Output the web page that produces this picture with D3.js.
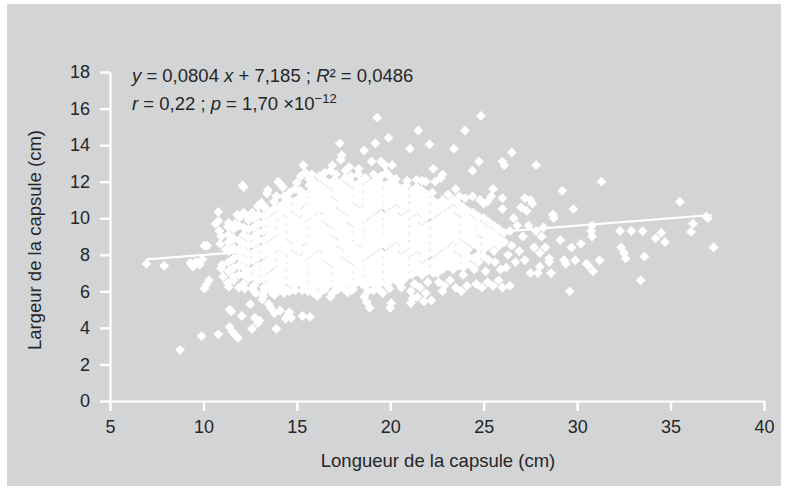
<!DOCTYPE html>
<html>
<head>
<meta charset="utf-8">
<script src="https://cdn.jsdelivr.net/npm/d3@7"></script>
<style>
  body { margin: 0; background: #fff; }
  svg { display: block; }
</style>
</head>
<body>
<svg id="chart" width="785" height="488"></svg>
<script>
// Longueur (x, cm) / largeur (y, cm) des capsules.
// Points isolés, rangés par tranche de longueur.
const bande07a12 = [
  [6.95,7.5],[7.9,7.4],[8.75,2.8],[9.3,7.55],[9.45,7.35],[9.6,7.6],[9.8,7.45],[9.9,3.55],
  [9.95,7.75],[10.05,8.5],[10.2,8.5],[10.05,6.15],[10.15,6.35],[10.3,6.6],[10.65,9.7],
  [10.8,9.85],[10.8,10.35],[10.8,3.65],[10.85,9.3],[10.95,9.0],[10.9,8.6],[11.0,7.45],
  [10.95,7.25],[11.05,6.8],[11.2,8.3],[11.3,9.55],[11.35,9.75],[11.3,6.45],[11.35,6.25],
  [11.4,5.0],[11.5,4.9],[11.4,4.05],[11.55,3.8],[11.7,3.6],[11.85,3.45],[11.6,6.8],
  [11.7,9.7],[11.8,10.2],[11.95,10.05],[12.1,11.8],[12.15,11.7],[12.05,4.65],[11.9,6.2],[12.2,6.15]
];
const bande12a14 = [
  [12.5,5.3],[12.6,3.95],[12.9,4.25],[13.0,4.4],[12.75,4.55],[12.35,10.1],[12.6,10.3],
  [12.9,10.65],[13.1,10.85],[13.3,10.6],[13.4,11.35],[13.45,11.55],[13.2,5.75],[13.25,6.0],
  [13.15,5.55],[13.5,5.3],[13.6,5.1],[12.8,5.9],[12.6,6.15],[13.8,4.8],[13.9,3.95],[13.6,6.0],
  [14.1,11.9],[14.0,12.0],[14.25,11.7],[13.9,11.2],[13.8,5.8],[14.0,6.0]
];
const bande14a16 = [
  [14.1,4.95],[14.4,4.5],[14.5,4.65],[14.6,4.85],[14.7,4.55],[14.3,5.9],[14.6,6.0],[14.9,6.05],
  [15.3,4.65],[15.7,4.6],[14.6,11.4],[14.9,11.6],[15.0,11.95],[15.2,11.5],[15.35,12.9],
  [15.45,12.5],[15.65,12.15],[15.8,12.4],[15.9,12.0],[15.3,6.05],[15.6,6.0],[15.9,5.9],[15.2,12.3]
];
const bande16a18 = [
  [16.1,5.75],[16.3,6.0],[16.5,6.1],[16.8,5.7],[16.9,5.9],[16.2,12.3],[16.5,12.5],[16.8,12.6],
  [16.9,12.9],[17.1,12.4],[17.3,14.1],[17.4,13.45],[17.35,13.2],[17.6,12.6],[17.8,12.8],
  [17.9,12.3],[17.2,6.1],[17.5,6.2],[17.9,6.05],[17.7,5.95]
];
const bande18a20 = [
  [18.1,6.5],[18.3,12.7],[18.6,13.7],[18.5,6.4],[18.6,5.7],[18.75,5.4],[18.9,5.1],[18.8,6.0],
  [19.0,13.1],[19.1,12.4],[19.2,14.1],[19.3,15.5],[19.5,13.1],[19.1,6.05],[19.4,6.1],[19.6,5.9],
  [19.8,12.5],[19.9,14.4],[20.0,5.1],[20.05,5.35],[19.95,6.15],[19.7,12.9],[20.1,12.9],
  [20.0,12.25],[18.3,12.4],[18.0,6.1]
];
const bande20a22 = [
  [20.3,12.15],[20.4,6.5],[20.5,7.0],[20.6,6.2],[20.9,12.05],[21.05,13.8],[21.1,6.0],[21.2,5.6],
  [21.1,5.35],[21.3,6.4],[21.45,5.7],[21.5,14.8],[21.6,6.2],[21.7,12.05],[21.8,5.45],[21.9,5.9],
  [22.0,6.5],[22.1,14.05],[22.2,5.5],[21.4,12.1],[20.7,6.6],[21.9,12.0]
];
const bande22a24 = [
  [22.3,12.7],[22.4,12.0],[22.7,12.2],[22.3,7.0],[22.5,7.3],[22.8,12.4],[22.8,6.0],[22.9,6.3],
  [23.2,6.6],[23.4,13.8],[23.5,6.2],[23.7,11.2],[23.8,6.0],[24.0,14.8],[24.1,6.3],[23.9,6.9],
  [23.1,11.3],[23.5,11.6],[22.6,6.5],[24.0,11.1]
];
const bande24a26 = [
  [24.4,12.6],[24.75,13.1],[24.85,15.6],[24.4,11.2],[24.8,11.0],[24.6,6.4],[24.9,6.2],[25.2,6.5],
  [25.5,6.3],[25.5,11.6],[25.2,10.9],[25.8,6.6],[26.0,11.1],[26.0,13.1],[26.1,12.9],[25.9,7.2],
  [25.6,7.6],[26.0,10.5],[26.2,7.3],[25.4,11.2],[25.0,10.8],[24.5,7.2],[25.1,7.1]
];
const bande26a29 = [
  [26.5,13.6],[26.4,6.3],[26.0,6.2],[26.3,8.0],[26.5,8.5],[26.4,9.3],[26.6,10.0],[26.7,7.6],
  [26.9,8.2],[27.0,10.6],[27.2,11.1],[27.3,10.4],[27.1,9.0],[27.4,9.6],[27.5,11.0],[27.6,10.8],
  [27.2,7.7],[27.5,7.0],[27.8,12.9],[27.9,7.0],[28.0,7.35],[27.7,8.4],[28.1,9.0],[28.2,9.5],
  [28.0,8.1],[28.3,8.4],[28.5,7.8],[28.6,7.0],[28.7,10.2],[28.75,10.0],[28.5,7.6],[26.8,9.6],[27.8,9.3]
];
const bande29a38 = [
  [29.1,8.8],[29.2,11.5],[29.3,7.7],[29.4,7.5],[29.6,6.0],[29.7,8.4],[29.8,10.5],[29.9,7.7],
  [30.2,8.6],[30.5,7.5],[30.6,7.4],[30.8,9.0],[30.8,9.6],[30.75,9.3],[30.85,7.1],[31.2,7.7],
  [31.3,12.0],[32.3,9.3],[32.35,8.4],[32.5,8.1],[32.6,7.8],[32.9,9.3],[33.4,6.6],[33.5,9.3],
  [33.6,7.9],[34.2,8.9],[34.5,9.2],[34.7,8.7],[35.5,10.9],[36.1,9.25],[36.2,9.7],[36.9,10.1],
  [37.0,10.0],[37.3,8.4]
];

// Nuage dense : [longueur, [largeurs…]] par colonne.
const coeurGauche = [
  [11.35,[7.1,7.6,8.2,8.7,9.1]],
  [11.62,[6.6,7.3,7.8,8.4,8.9,9.4]],
  [11.9,[6.9,7.4,7.9,8.3,8.8,9.6]],
  [12.15,[6.4,6.9,7.3,7.7,8.2,8.6,9.1,9.5,10.3]],
  [12.42,[6.7,7.1,7.6,8.0,8.5,8.9,9.4,9.9]],
  [12.7,[6.3,6.8,7.2,7.7,8.1,8.6,9.0,9.5,10.0]],
  [12.95,[6.6,7.0,7.4,7.9,8.3,8.8,9.2,9.7,10.2]],
  [13.22,[6.2,6.7,7.1,7.5,8.0,8.4,8.8,9.3,9.7,10.1,10.6]],
  [13.5,[6.4,6.8,7.3,7.7,8.1,8.5,9.0,9.4,9.8,10.3]],
  [13.78,[6.2,6.6,7.0,7.5,7.9,8.3,8.7,9.2,9.6,10.0,10.5,10.9]],
  [14.05,[6.4,6.8,7.2,7.6,8.0,8.5,8.9,9.3,9.7,10.2,10.6]],
  [14.3,[6.2,6.6,7.0,7.4,7.8,8.3,8.7,9.1,9.5,9.9,10.4,10.8,11.2]],
  [14.58,[6.5,6.9,7.3,7.7,8.1,8.5,9.0,9.4,9.8,10.2,10.6,11.0]],
  [14.85,[6.3,6.7,7.1,7.5,7.9,8.4,8.8,9.2,9.6,10.0,10.5,10.9]],
  [15.12,[6.5,6.9,7.3,7.7,8.2,8.6,9.0,9.4,9.8,10.3,10.7,11.1,11.5]],
  [15.4,[6.3,6.7,7.1,7.5,7.9,8.3,8.8,9.2,9.6,10.0,10.4,10.9,11.3]],
  [15.67,[6.4,6.8,7.2,7.6,8.1,8.5,8.9,9.3,9.7,10.2,10.6,11.0,11.4,11.8]],
  [15.93,[6.2,6.6,7.0,7.4,7.8,8.3,8.7,9.1,9.5,9.9,10.4,10.8,11.2,11.6]]
];
const coeurCentre = [
  [16.2,[6.4,6.8,7.2,7.6,8.0,8.5,8.9,9.3,9.7,10.1,10.6,11.0,11.4,11.8]],
  [16.47,[6.2,6.6,7.0,7.4,7.9,8.3,8.7,9.1,9.5,10.0,10.4,10.8,11.2,11.6,12.1]],
  [16.75,[6.4,6.8,7.2,7.7,8.1,8.5,8.9,9.3,9.8,10.2,10.6,11.0,11.4,11.9]],
  [17.02,[6.3,6.7,7.1,7.5,7.9,8.3,8.7,9.2,9.6,10.0,10.4,10.8,11.3,11.7,12.1]],
  [17.3,[6.5,6.9,7.3,7.7,8.1,8.6,9.0,9.4,9.8,10.2,10.7,11.1,11.5,11.9]],
  [17.57,[6.3,6.7,7.1,7.5,8.0,8.4,8.8,9.2,9.6,10.0,10.5,10.9,11.3,11.7,12.2]],
  [17.85,[6.5,6.9,7.3,7.8,8.2,8.6,9.0,9.4,9.9,10.3,10.7,11.1,11.5,12.0]],
  [18.12,[6.4,6.8,7.2,7.6,8.0,8.4,8.9,9.3,9.7,10.1,10.5,11.0,11.4,11.8]],
  [18.4,[6.6,7.0,7.4,7.8,8.2,8.7,9.1,9.5,9.9,10.3,10.8,11.2,11.6,12.0]],
  [18.67,[6.3,6.7,7.1,7.5,8.0,8.4,8.8,9.2,9.6,10.1,10.5,10.9,11.3,11.7,12.2]],
  [18.95,[6.5,6.9,7.3,7.7,8.2,8.6,9.0,9.4,9.8,10.3,10.7,11.1,11.5,11.9]],
  [19.22,[6.3,6.7,7.1,7.5,7.9,8.4,8.8,9.2,9.6,10.0,10.5,10.9,11.3,11.7,12.1]],
  [19.5,[6.5,6.9,7.3,7.7,8.1,8.6,9.0,9.4,9.8,10.2,10.7,11.1,11.5,11.9,12.3]],
  [19.77,[6.4,6.8,7.2,7.6,8.0,8.5,8.9,9.3,9.7,10.1,10.6,11.0,11.4,11.8]],
  [20.05,[6.6,7.0,7.4,7.8,8.2,8.7,9.1,9.5,9.9,10.3,10.8,11.2,11.6,12.0]],
  [20.32,[6.8,7.2,7.6,8.0,8.4,8.9,9.3,9.7,10.1,10.5,11.0,11.4,11.8]],
  [20.6,[6.6,7.0,7.4,7.8,8.3,8.7,9.1,9.5,9.9,10.4,10.8,11.2,11.6]],
  [20.87,[6.8,7.2,7.6,8.0,8.5,8.9,9.3,9.7,10.1,10.6,11.0,11.4,11.8]]
];
const coeurDroite = [
  [21.15,[6.9,7.3,7.7,8.2,8.6,9.0,9.4,9.8,10.3,10.7,11.1,11.5]],
  [21.42,[7.1,7.5,7.9,8.4,8.8,9.2,9.6,10.0,10.5,10.9,11.3,11.7]],
  [21.7,[6.9,7.3,7.8,8.2,8.6,9.0,9.4,9.9,10.3,10.7,11.1,11.5]],
  [21.97,[7.1,7.5,8.0,8.4,8.8,9.2,9.6,10.1,10.5,10.9,11.3]],
  [22.25,[7.2,7.6,8.1,8.5,8.9,9.3,9.7,10.2,10.6,11.0,11.4]],
  [22.52,[7.0,7.4,7.8,8.3,8.7,9.1,9.5,9.9,10.4,10.8]],
  [22.8,[7.2,7.6,8.0,8.5,8.9,9.3,9.7,10.1,10.6,11.0]],
  [23.07,[7.4,7.8,8.2,8.7,9.1,9.5,9.9,10.3,10.8]],
  [23.35,[7.2,7.6,8.0,8.4,8.9,9.3,9.7,10.1,10.5,11.0]],
  [23.62,[7.4,7.8,8.3,8.7,9.1,9.5,9.9,10.4,10.8]],
  [23.9,[7.3,7.7,8.1,8.5,9.0,9.4,9.8,10.2,10.6]],
  [24.17,[7.5,7.9,8.3,8.8,9.2,9.6,10.0,10.4]],
  [24.45,[7.3,7.8,8.6,9.0,9.4,9.8,10.3]],
  [24.72,[7.6,8.0,8.4,8.8,9.3,9.7,10.1]],
  [25.0,[7.9,8.3,8.7,9.1,9.5,10.0]],
  [25.27,[7.7,8.5,8.9,9.3,9.8]],
  [25.55,[8.2,8.7,9.1,9.6]],
  [25.82,[8.5,8.9,9.4]],
  [26.1,[8.7,9.2]]
];

const xTicks = [5, 10, 15, 20, 25, 30, 35, 40];
const yTicks = [0, 2, 4, 6, 8, 10, 12, 14, 16, 18];
const xTitle = 'Longueur de la capsule (cm)';
const yTitle = 'Largeur de la capsule (cm)';

// Droite de régression affichée : y = 0,0804 x + 7,185, tracée de x = 6,95 à 37,2
const regPente = 0.0804, regOrdonnee = 7.185, regDebut = 6.95, regFin = 37.2;

const FONT = '"Liberation Sans", Arial, sans-serif';
const TEXT = '#262626';
const BG = '#d3d4d6';

const svg = d3.select('#chart');

svg.append('rect')
  .attr('x', 7).attr('y', 4)
  .attr('width', 774).attr('height', 482)
  .attr('fill', BG);

const x = d3.scaleLinear().domain([5, 40]).range([110, 764]);
const y = d3.scaleLinear().domain([0, 18]).range([401, 72]);

const coeur = [...coeurGauche, ...coeurCentre, ...coeurDroite]
  .flatMap(([lx, ys]) => ys.map(ly => [lx, ly]));
const points = [
  ...coeur,
  ...bande07a12, ...bande12a14, ...bande14a16, ...bande16a18, ...bande18a20,
  ...bande20a22, ...bande22a24, ...bande24a26, ...bande26a29, ...bande29a38
];

const diamond = d3.symbol().type(d3.symbolSquare).size(48);
svg.append('g')
  .selectAll('path')
  .data(points)
  .join('path')
  .attr('transform', d => `translate(${x(d[0])},${y(d[1])}) rotate(45)`)
  .attr('d', diamond)
  .attr('fill', '#fff');

// regression line
svg.append('line')
  .attr('x1', x(regDebut)).attr('y1', y(regPente * regDebut + regOrdonnee))
  .attr('x2', x(regFin)).attr('y2', y(regPente * regFin + regOrdonnee))
  .style('stroke', '#fff').style('stroke-width', '2.2');

// axes
const xAxis = svg.append('g')
  .attr('transform', 'translate(0,401)')
  .call(d3.axisBottom(x).tickValues(xTicks).tickSize(10).tickSizeOuter(0).tickPadding(9));
const yAxis = svg.append('g')
  .attr('transform', 'translate(110,0)')
  .call(d3.axisLeft(y).tickValues(yTicks).tickSize(10).tickSizeOuter(0).tickPadding(10));

[xAxis, yAxis].forEach(g => {
  g.select('.domain').style('stroke', '#fff').style('stroke-width', '2.2');
  g.selectAll('.tick line').style('stroke', '#fff').style('stroke-width', '2.4');
  g.selectAll('.tick text')
    .style('font-family', FONT).style('font-size', '18px').style('fill', TEXT);
});

// titles
svg.append('text')
  .attr('x', 438).attr('y', 467)
  .attr('text-anchor', 'middle')
  .style('font-family', FONT).style('font-size', '18.5px').style('fill', TEXT)
  .text(xTitle);

svg.append('text')
  .attr('transform', 'translate(41,240) rotate(-90)')
  .attr('text-anchor', 'middle')
  .style('font-family', FONT).style('font-size', '18.5px').style('fill', TEXT)
  .text(yTitle);

// equation
const eq1 = svg.append('text')
  .attr('x', 132).attr('y', 82)
  .style('font-family', FONT).style('font-size', '18.5px').style('fill', TEXT);
eq1.append('tspan').style('font-style', 'italic').text('y');
eq1.append('tspan').text(' = 0,0804 ');
eq1.append('tspan').style('font-style', 'italic').text('x');
eq1.append('tspan').text(' + 7,185 ; ');
eq1.append('tspan').style('font-style', 'italic').text('R');
eq1.append('tspan').text('² = 0,0486');

const eq2 = svg.append('text')
  .attr('x', 132).attr('y', 110)
  .style('font-family', FONT).style('font-size', '18.5px').style('fill', TEXT);
eq2.append('tspan').style('font-style', 'italic').text('r');
eq2.append('tspan').text(' = 0,22 ; ');
eq2.append('tspan').style('font-style', 'italic').text('p');
eq2.append('tspan').text(' = 1,70 ×10');
eq2.append('tspan').attr('dy', -7).style('font-size', '13px').text('−12');
</script>
</body>
</html>
